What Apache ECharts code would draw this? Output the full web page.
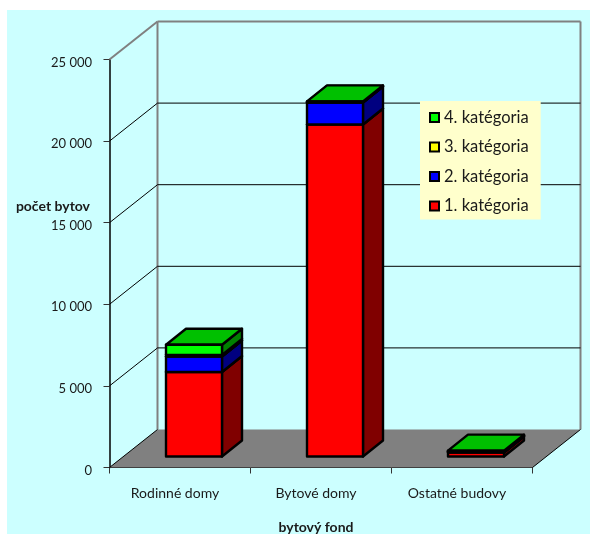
<!DOCTYPE html>
<html><head><meta charset="utf-8">
<style>html,body{margin:0;padding:0;background:#fff}#c{width:590px;height:534px}</style>
<script src="https://cdn.jsdelivr.net/npm/echarts@6/dist/echarts.min.js"></script>
</head><body><div id="c"></div>
<script>
var categories = ['Rodinné domy', 'Bytové domy', 'Ostatné budovy'];
var cat1 = [5180, 20340, 240];
var cat2 = [950, 1350, 45];
var cat3 = [100, 30, 25];
var cat4 = [620, 40, 50];
var seriesNames = ['1. katégoria', '2. katégoria', '3. katégoria', '4. katégoria'];
var valueTicks = [0, 5000, 10000, 15000, 20000, 25000];

var DX = 48, DY = -38;          // wall depth in pixels
var BAR_DX = 14, BAR_DY = -11;  // bar front-face offset from the axis plane
var BAR_W = 28, SIDE_X = 20, SIDE_Y = -16;
var front = ['#ff0000', '#0000ff', '#ffff00', '#00ff00'];
var side = ['#800000', '#000080', '#808000', '#008000'];
var topc = ['#c00000', '#0000c0', '#c0c000', '#00c000'];
var values = [cat1, cat2, cat3, cat4];

var chart = echarts.init(document.getElementById('c'), null, {renderer: 'canvas'});

function segments(k) {
  return categories.map(function (c, i) {
    var base = 0;
    for (var j = 0; j < k; j++) base += values[j][i];
    return [i, base, base + values[k][i]];
  });
}
function poly(pts, fill, stroke, w) {
  return {type: 'polygon', shape: {points: pts},
    style: {fill: fill, stroke: stroke, lineWidth: w, lineJoin: 'round'}};
}
function barSeries(k) {
  return {
    name: seriesNames[k], type: 'custom', coordinateSystem: 'cartesian2d', clip: false, z: 5,
    itemStyle: {color: front[k], borderColor: '#000', borderWidth: 2},
    encode: {x: 0, y: [1, 2]},
    data: segments(k),
    renderItem: function (params, api) {
      var i = api.value(0);
      var a = api.coord([i, api.value(1)]), b = api.coord([i, api.value(2)]);
      var x0 = a[0] + BAR_DX - BAR_W, x1 = a[0] + BAR_DX + BAR_W;
      var y0 = a[1] + BAR_DY, y1 = b[1] + BAR_DY;
      return {type: 'group', children: [
        poly([[x1, y0], [x1 + SIDE_X, y0 + SIDE_Y], [x1 + SIDE_X, y1 + SIDE_Y], [x1, y1]], side[k], '#000', 2.4),
        poly([[x0, y1], [x1, y1], [x1 + SIDE_X, y1 + SIDE_Y], [x0 + SIDE_X, y1 + SIDE_Y]], topc[k], '#000', 2.4),
        poly([[x0, y0], [x1, y0], [x1, y1], [x0, y1]], front[k], '#000', 2.4)
      ]};
    }
  };
}
var wallSeries = {
  name: 'walls', type: 'custom', coordinateSystem: 'cartesian2d', clip: false, z: 1, silent: true,
  data: valueTicks.map(function (v) { return [0, v]; }),
  encode: {x: 0, y: 1},
  renderItem: function (params, api) {
    var v = api.value(1);
    var c0 = api.coord([0, v]);
    var band = api.size([1, 0])[0];
    var xl = c0[0] - band / 2, xr = xl + band * categories.length, y = c0[1];
    var children = [];
    if (v === 0) {
      var t = api.coord([0, valueTicks[valueTicks.length - 1]])[1];
      children.push(poly([[xl, y], [xr, y], [xr + DX, y + DY], [xl + DX, y + DY]], '#808080', 'none', 0));
      children.push({type: 'line', shape: {x1: xl + DX, y1: y + DY, x2: xl + DX, y2: t + DY}, style: {stroke: '#808080', lineWidth: 2}});
      children.push({type: 'line', shape: {x1: xr + DX, y1: y + DY, x2: xr + DX, y2: t + DY}, style: {stroke: '#808080', lineWidth: 2}});
      children.push({type: 'line', shape: {x1: xr, y1: y, x2: xr + DX, y2: y + DY}, style: {stroke: '#000', lineWidth: 1}});
      children.push({type: 'line', shape: {x1: xl, y1: y, x2: xl + DX, y2: y + DY}, style: {stroke: '#000', lineWidth: 1}});
    } else {
      var top = v === valueTicks[valueTicks.length - 1];
      var col = top ? '#808080' : '#000', w = top ? 2 : 1;
      children.push({type: 'line', shape: {x1: xl, y1: y, x2: xl + DX, y2: y + DY}, style: {stroke: col, lineWidth: w}});
      children.push({type: 'line', shape: {x1: xl + DX, y1: y + DY, x2: xr + DX, y2: y + DY}, style: {stroke: col, lineWidth: w}});
    }
    return {type: 'group', children: children};
  }
};

chart.setOption({
  animation: false,
  backgroundColor: 'transparent',
  textStyle: {fontFamily: 'Lato'},
  graphic: [{type: 'rect', z: -10, silent: true, shape: {x: 7, y: 10, width: 583, height: 524}, style: {fill: '#ccffff'}}],
  grid: {left: 109.5, top: 59.5, width: 423, height: 408, outerBoundsMode: 'none', containLabel: false},
  legend: {
    orient: 'vertical', left: 420, top: 101, width: 121,
    padding: [8, 12, 5, 9], itemGap: 12.5, itemWidth: 9, itemHeight: 9, icon: 'rect',
    backgroundColor: '#ffffcc', selectedMode: false,
    textStyle: {fontSize: 16.5, color: '#1a1a1a', fontFamily: 'Lato'},
    data: seriesNames.slice().reverse().map(function (n) {
      var k = seriesNames.indexOf(n);
      return {name: n, icon: 'rect', itemStyle: {color: front[k], borderColor: '#000', borderWidth: 2}};
    })
  },
  xAxis: {
    type: 'category', data: categories, boundaryGap: true,
    name: 'bytový fond', nameLocation: 'middle', nameGap: 53,
    nameTextStyle: {fontSize: 14, fontWeight: 'bold', color: '#1a1a1a', padding: [0, 10, 0, 0]},
    axisLine: {lineStyle: {color: '#000', width: 1}},
    axisTick: {show: true, length: 6, alignWithLabel: false, lineStyle: {color: '#333'}},
    axisLabel: {fontSize: 14, color: '#1a1a1a', margin: 19, interval: 0, padding: [0, 10, 0, 0]}
  },
  yAxis: {
    type: 'value', min: 0, max: 25000, interval: 5000,
    name: 'počet bytov', nameLocation: 'middle', nameRotate: 0, nameGap: 19.5, nameMoveOverlap: false,
    nameTextStyle: {fontSize: 14, fontWeight: 'bold', color: '#1a1a1a', verticalAlign: 'bottom', padding: [0, 0, 50, 0]},
    splitLine: {show: false},
    axisLine: {show: true, lineStyle: {color: '#000', width: 1.5}},
    axisTick: {show: true, length: 6, lineStyle: {color: '#333'}},
    axisLabel: {fontSize: 13, color: '#1a1a1a', margin: 17.5, verticalAlign: 'top', lineHeight: 6,
      formatter: function (v) { return String(v).replace(/\B(?=(\d{3})+$)/g, ' '); }}
  },
  series: [wallSeries].concat(seriesNames.map(function (n, k) { return barSeries(k); }))
});
</script></body></html>
